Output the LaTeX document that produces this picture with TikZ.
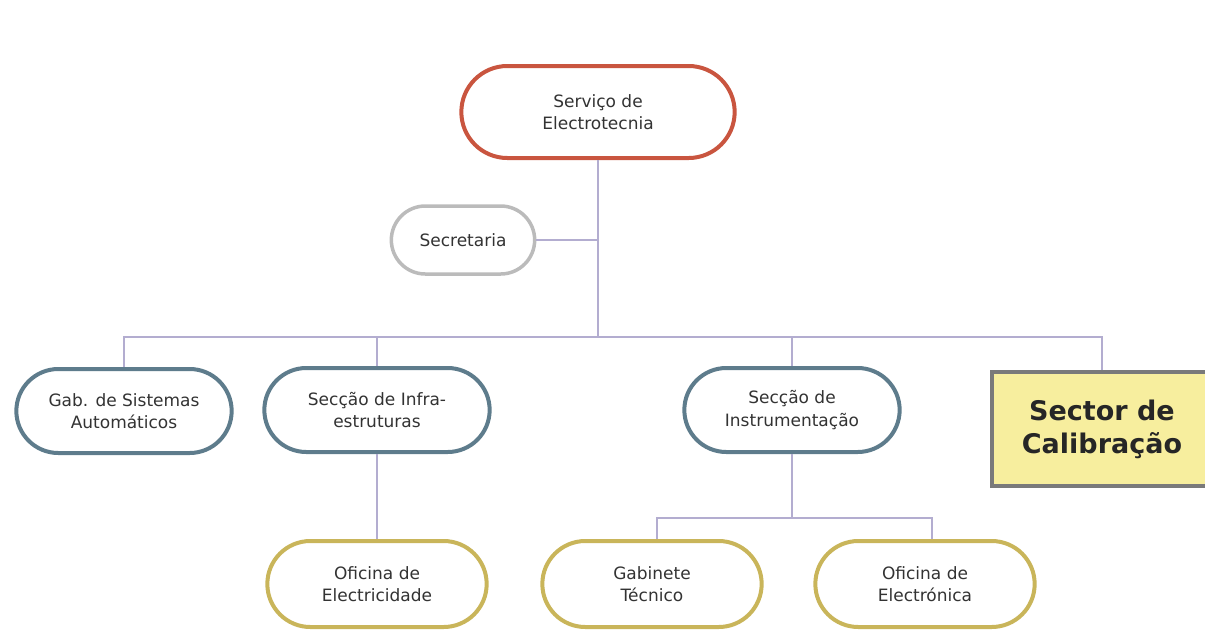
\documentclass[tikz,border=0pt]{standalone}
\usepackage{fontspec}
\setmainfont{DejaVu Sans}
\usepackage{tikz}
\usetikzlibrary{
  positioning,
  shapes.misc
}
\definecolor{orgline}{HTML}{B3ADD0}
\definecolor{chiefred}{HTML}{C9553F}
\definecolor{secgray}{HTML}{BBBBBB}
\definecolor{unitblue}{HTML}{5E7C8C}
\definecolor{shopgold}{HTML}{C9B55A}
\definecolor{calfill}{HTML}{F7EE9E}
\definecolor{calborder}{HTML}{7A7A7A}

\begin{document}
\begin{tikzpicture}[
  x=1pt, y=-1pt,
  every node/.style={font=\fontsize{17}{22.5}\selectfont, text=black!80, align=center},
  chief/.style={
    rounded rectangle, draw=chiefred, fill=white, line width=4pt,
    minimum width=280pt, minimum height=92pt
  },
  secbox/.style={
    rounded rectangle, draw=secgray, fill=white, line width=3.5pt,
    minimum width=150pt, minimum height=68pt
  },
  unitbox/.style={
    rounded rectangle, draw=unitblue, fill=white, line width=4pt,
    minimum width=222pt, minimum height=84pt
  },
  shopbox/.style={
    rounded rectangle, draw=shopgold, fill=white, line width=4pt,
    minimum width=226pt, minimum height=86pt
  },
  calbox/.style={
    rectangle, draw=calborder, fill=calfill, line width=4pt,
    minimum width=220pt, minimum height=114pt,
    font=\fontsize{27}{33}\selectfont\bfseries, text=black!85
  },
  link/.style={draw=orgline, line width=2.2pt}
]
\useasboundingbox (0,0) rectangle (1205,633);

% ---- Head ----
\node[chief] (serv) at (598,112) {Serviço de\\Electrotecnia};
\node[secbox] (secr) at (463,240) {Secretaria};
\coordinate (hub) at (598,337);

% ---- Sections ----
\node[unitbox] (gab) at (124,411) {Gab. de Sistemas\\Automáticos};
\node[unitbox, minimum width=232pt] (infra) at (377,410) {Secção de Infra-\\estruturas};
\node[unitbox] (instr) at (792,410) {Secção de\\Instrumentação};
\node[calbox] (calib) at (1102,429) {Sector de\\Calibração};

% ---- Workshops ----
\node[shopbox] (ofel) at (377,584) {Oficina de\\Electricidade};
\node[shopbox] (gabt) at (652,584) {Gabinete\\Técnico};
\node[shopbox] (ofelc) at (925,584) {Oficina de\\Electrónica};
\coordinate (sub) at (792,518);

% Head connections
\draw[link] (serv.south) -- (hub);
\draw[link] (secr.east) -- (secr.east -| hub);
\draw[link] (gab.north) |- (hub);
\draw[link] (infra.north) |- (hub);
\draw[link] (instr.north) |- (hub);
\draw[link] (calib.north) |- (hub);

% Section connections
\draw[link] (infra.south) -- (ofel.north);
\draw[link] (instr.south) -- (sub);
\draw[link] ([xshift=5pt]gabt.north) |- (sub);
\draw[link] ([xshift=7pt]ofelc.north) |- (sub);

\end{tikzpicture}
\end{document}
